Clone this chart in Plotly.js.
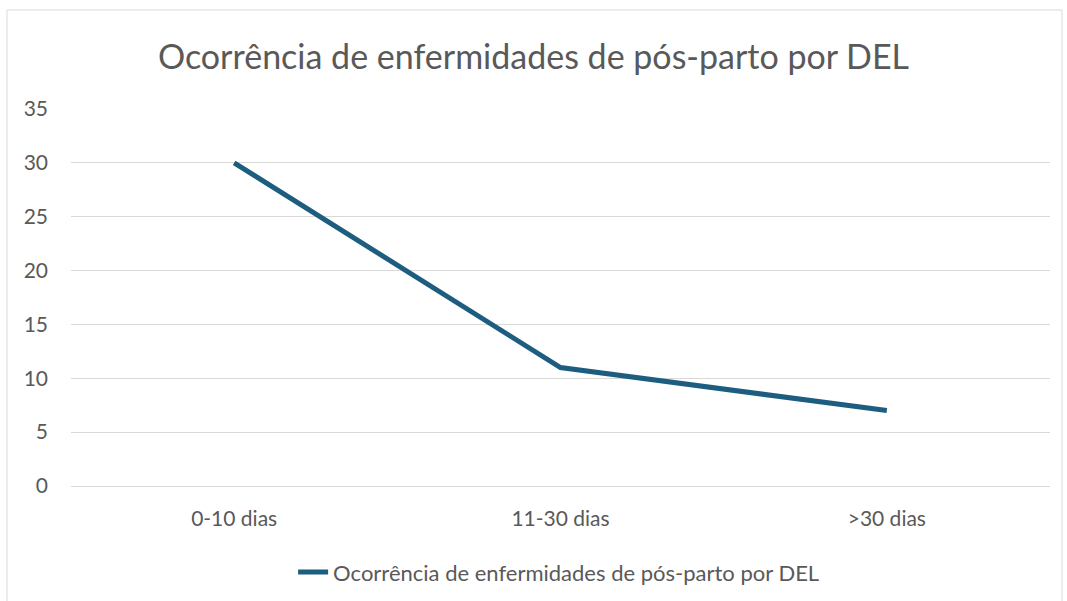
<!DOCTYPE html>
<html>
<head>
<meta charset="utf-8">
<script src="https://cdn.plot.ly/plotly-3.0.1.min.js"></script>
<style>html,body{margin:0;padding:0;background:#fff;}#chart{width:1067px;height:601px;}</style>
</head>
<body>
<div id="chart"></div>
<script>
const categories = ["0-10 dias", "11-30 dias", ">30 dias"];
const values = [30, 11, 7];
const seriesName = "Ocorrência de enfermidades de pós-parto por DEL";
const chartTitle = "Ocorrência de enfermidades de pós-parto por DEL";
const yTicks = [0, 5, 10, 15, 20, 25, 30, 35];

const font = "Lato, Open Sans, sans-serif";
const grey = "#595959";

const trace = {
  x: categories,
  y: values,
  type: "scatter",
  mode: "lines",
  name: seriesName,
  line: {color: "#1c5d80", width: 5}
};

const layout = {
  width: 1067, height: 601,
  margin: {l: 71, r: 17, t: 109, b: 115},
  paper_bgcolor: "#ffffff",
  plot_bgcolor: "#ffffff",
  title: {text: chartTitle, font: {family: font, size: 34, color: grey}, x: 0.5, xanchor: "center", y: 0.905, yanchor: "middle"},
  xaxis: {
    type: "category",
    range: [-0.5, 2.5],
    automargin: false,
    showgrid: false, zeroline: false, showline: false,
    ticks: "", ticklabelstandoff: 18,
    tickfont: {family: font, size: 21, color: grey}
  },
  yaxis: {
    range: [0, 35],
    automargin: false,
    tickvals: yTicks,
    showgrid: true, gridcolor: "#d9d9d9", gridwidth: 1,
    zeroline: true, zerolinecolor: "#d9d9d9", zerolinewidth: 1,
    showline: false, ticks: "",
    ticklabelstandoff: 22,
    tickfont: {family: font, size: 21, color: grey}
  },
  showlegend: true,
  legend: {orientation: "h", xref: "container", yref: "container",
    x: 0.524, xanchor: "center", y: 0.048, yanchor: "middle",
    font: {family: font, size: 22, color: grey}},
  shapes: [{
    type: "rect", xref: "paper", yref: "paper",
    x0: -0.0654, x1: 1.0123, y0: -0.33, y1: 1.2626,
    line: {color: "#d9d9d9", width: 1}, fillcolor: "rgba(0,0,0,0)", layer: "below"
  }]
};

Plotly.newPlot("chart", [trace], layout, {displayModeBar: false, staticPlot: true});
</script>
</body>
</html>
